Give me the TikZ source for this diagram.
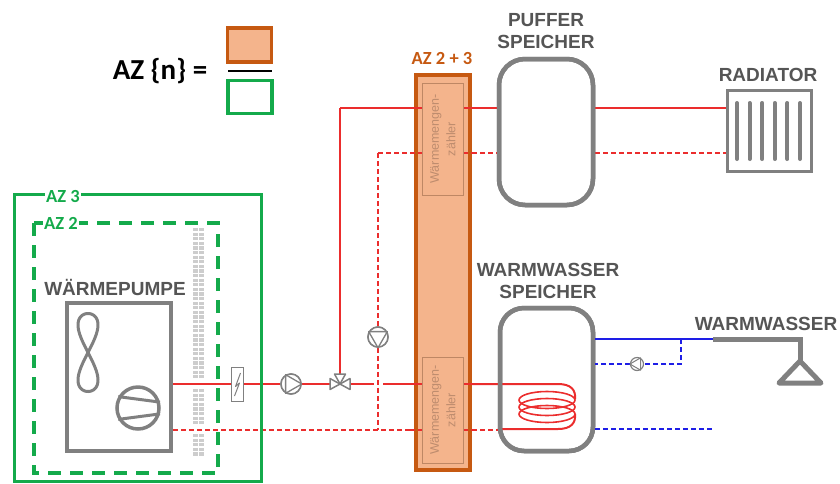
\documentclass[tikz,border=0pt]{standalone}
\usepackage{fontspec}
\setmainfont{Liberation Sans}
\newfontfamily\calfont{Carlito}
\usetikzlibrary{calc}
\definecolor{pipered}{RGB}{235,45,45}
\definecolor{azorange}{RGB}{198,89,17}
\definecolor{lightor}{RGB}{244,180,140}
\definecolor{azgreen}{RGB}{20,170,75}
\definecolor{shapegray}{RGB}{128,128,128}
\definecolor{txtgray}{RGB}{85,85,85}
\definecolor{wwblue}{RGB}{30,30,230}
\definecolor{wmzline}{RGB}{190,135,100}
\definecolor{wmztext}{RGB}{190,140,110}
\definecolor{brick}{RGB}{205,205,205}
\begin{document}
\begin{tikzpicture}[x=1pt,y=-1pt,
  tank/.style={draw=shapegray, line width=4.5, rounded corners=26, inner sep=0},
  lbl/.style={font=\bfseries\fontsize{19}{21.5}\selectfont, text=txtgray, inner sep=0, align=center},
  azlbl/.style={font=\calfont\bfseries\fontsize{18.5}{20}\selectfont, inner sep=1.5},
  hot/.style={draw=pipered, line width=2},
  ret/.style={hot, dash pattern=on 5 off 3},
  bl/.style={draw=wwblue, line width=2},
  blret/.style={bl, dash pattern=on 5 off 3},
  pumpc/.style={circle, draw=shapegray, line width=1.5, fill=white, minimum size=20, inner sep=0},
  sym/.style={draw=shapegray, line width=1.5, fill=white, line join=round},
  wmz/.style={draw=wmzline, line width=0.8, minimum width=41, inner sep=0},
  wmzt/.style={rotate=90, font=\fontsize{12.5}{16.5}\selectfont, text=wmztext, align=center, inner sep=0}]
\useasboundingbox (0,0) rectangle (840,483);
% ---------- legend
\node[font=\calfont\bfseries\fontsize{29}{30}\selectfont, inner sep=0] (azn) at (160,71) {AZ \{n\} =};
\node[draw=azorange, line width=3.5, fill=lightor, minimum width=44, minimum height=34, inner sep=0] (legnum) at (249.5,45) {};
\node[draw=azgreen, line width=3.5, minimum width=44, minimum height=33, inner sep=0] (legden) at (250,97) {};
\coordinate (fracl) at (228,71);
\coordinate (fracr) at (272,71);
\draw[line width=2.5] (fracl) -- (fracr);
% ---------- main nodes
\node[draw=azorange, line width=4, fill=lightor, minimum width=54, minimum height=395, inner sep=0] (col) at (443,272.5) {};
\node[tank, minimum width=94, minimum height=146] (puffer) at (546,132) {};
\node[tank, minimum width=93, minimum height=143, rounded corners=24] (ww) at (546.5,379.5) {};
\node[draw=shapegray, line width=3.5, minimum width=84, minimum height=81, inner sep=0] (rad) at (769.5,131) {};
\node[draw=shapegray, line width=4.5, minimum width=104, minimum height=148, inner sep=0] (hp) at (119,377) {};
% y levels
\coordinate (yF) at (0,108);
\coordinate (yR) at (0,153);
\coordinate (yS) at (0,384);
\coordinate (yD) at (0,430);
\coordinate (v1top) at (340,108);
\coordinate (d1top) at (378,153);
\coordinate (valve) at (340,384);
\coordinate (d1bot) at (378,430);
\coordinate (gapl) at (374,384);
\coordinate (gapr) at (383,384);
% ---------- pipes top
\draw[hot] (v1top) -- (col.west |- yF);
\draw[hot] (col.east |- yF) -- (puffer.west |- yF);
\draw[hot] (puffer.east |- yF) -- (rad.west |- yF);
\draw[ret] (d1top) -- (col.west |- yR);
\draw[ret] (col.east |- yR) -- (puffer.west |- yR);
\draw[ret] (puffer.east |- yR) -- (rad.west |- yR);
\draw[hot] (v1top) -- (valve);
% pumps etc
\node[pumpc] (p1) at (291,384) {};
\node[pumpc] (p2) at (378,337) {};
\node[draw=shapegray, line width=1.8, fill=white, minimum width=12, minimum height=34, inner sep=0] (heater) at (237.5,384.5) {};
% lower pipes
\draw[hot] (hp.east |- yS) -- (heater.west |- yS);
\draw[hot] (heater.east |- yS) -- (p1.west);
\draw[hot] (p1.east) -- (valve);
\draw[hot] (valve) -- (gapl);
\draw[hot] (gapr) -- (col.west |- yS);
\draw[ret] (d1top) -- (p2.north);
\draw[ret] (p2.south) -- (d1bot);
\draw[ret] (hp.east |- yD) -- (col.west |- yD);
% coil
\coordinate (coilA) at (558,384);
\coordinate (coilB) at (558,429);
\draw[hot] (col.east |- yS) -- (coilA) .. controls (571,384) and (576,390) .. (575,399);
\draw[ret] (col.east |- yD) -- (ww.west |- yD);
\draw[hot] (ww.west |- coilB) -- (coilB) .. controls (571,429) and (576,423) .. (575,414);
\foreach \cy in {400,407,414}
  \draw[pipered, line width=1.6] (547,\cy) ellipse [x radius=28, y radius=8.5];
% red ticks on the column border
\foreach \ty in {108,384} {
  \draw[hot] (410,\ty) -- (423,\ty);
  \draw[hot] (463,\ty) -- (476,\ty);}
\foreach \ty in {153,430} {
  \draw[ret] (410,\ty) -- (423,\ty);
  \draw[ret] (463,\ty) -- (476,\ty);}
% symbols on top
\node[pumpc] at (p1) {};
\draw[shapegray, line width=1.3, line join=round] (p1.120) -- (p1.0) -- (p1.240) -- cycle;
\node[pumpc] at (p2) {};
\draw[shapegray, line width=1.3, line join=round] (p2.150) -- (p2.-90) -- (p2.30) -- cycle;
\draw[sym] (valve) -- ++(-10,-5.5) -- ++(0,11) -- cycle;
\draw[sym] (valve) -- ++(10,-5.5) -- ++(0,11) -- cycle;
\draw[sym] (valve) -- ++(-5.5,-10) -- ++(11,0) -- cycle;
\node[draw=shapegray, line width=1.8, fill=white, minimum width=12, minimum height=34, inner sep=0] at (heater) {};
\draw[shapegray, line width=1, line join=round] (240.5,373) -- (235.5,386.5) -- (239.5,383) -- (234.5,396);
% ---------- column inner boxes
\node[wmz, minimum height=112] (wmz1) at (443,139) {};
\node[wmzt] at (wmz1) {Wärmemengen-\\zähler};
\node[wmz, minimum height=106] (wmz2) at (443,410) {};
\node[wmzt] at (wmz2) {Wärmemengen-\\zähler};
\node[azlbl, text=azorange] (az23) at (442,58) {AZ 2 + 3};
% tanks redraw on top of pipes
\node[tank, minimum width=94, minimum height=146] at (puffer) {};
\node[tank, minimum width=93, minimum height=143, rounded corners=24] at (ww) {};
% radiator bars
\foreach \bx in {737,749.6,762.2,774.8,787.4,800}
  \draw[shapegray, line width=4, line cap=round] (\bx,103) -- (\bx,159);
% ---------- hot water side
\coordinate (tap) at (713,339);
\coordinate (tapbend) at (800,339);
\coordinate (headtop) at (800,361);
\coordinate (circT) at (681,339);
\coordinate (circB) at (681,364);
\coordinate (coldend) at (713,429);
\draw[bl] (ww.east |- tap) -- (tap);
\draw[shapegray, line width=5, line join=miter] (tap) -- (tapbend) -- (headtop);
\draw[shapegray, line width=5, line join=round] (headtop) -- (779,383) -- (821,383) -- cycle;
\node[pumpc, minimum size=13, line width=1.2] (p3) at (637,364) {};
\draw[blret] (circT) -- (circB) -- (p3.east);
\draw[blret] (p3.west) -- (ww.east |- circB);
\draw[shapegray, line width=1, line join=round] (p3.60) -- (p3.180) -- (p3.300) -- cycle;
\draw[blret] (ww.east |- coldend) -- (coldend);
% ---------- heat pump details
\draw[shapegray, line width=3] plot[domain=0:360, samples=90, smooth cycle] ({88+20*sin(\x)*cos(\x)},{352.5+39*sin(\x)});
\node[circle, draw=shapegray, line width=3.5, minimum size=42, inner sep=0] (comp) at (138,408) {};
\draw[shapegray, line width=3] (comp.150) -- (comp.15);
\draw[shapegray, line width=3] (comp.210) -- (comp.-15);
% brick wall
\foreach \yy in {228,232.6,...,376} {
  \fill[brick] (193,\yy) rectangle ++(5,3.2);
  \fill[brick] (199,\yy) rectangle ++(5,3.2);}
\foreach \yy in {389,393.6,...,423} {
  \fill[brick] (193,\yy) rectangle ++(5,3.2);
  \fill[brick] (199,\yy) rectangle ++(5,3.2);}
\foreach \yy in {434,438.6,...,455} {
  \fill[brick] (193,\yy) rectangle ++(5,3.2);
  \fill[brick] (199,\yy) rectangle ++(5,3.2);}
% ---------- system boundaries
\draw[azgreen, line width=3] (14,194) rectangle (261,481);
\draw[azgreen, line width=3.5, dash pattern=on 13 off 9] (34,223) rectangle (218,473);
\node[azlbl, text=azgreen, fill=white] (az3) at (63,196) {AZ 3};
\node[azlbl, text=azgreen, fill=white] (az2) at (61,223) {AZ 2};
% ---------- labels
\node[lbl] (lpuf) at (546,31) {PUFFER\\SPEICHER};
\node[lbl] (lrad) at (768,75) {RADIATOR};
\node[lbl] (lwws) at (548,281) {WARMWASSER\\SPEICHER};
\node[lbl] (lww) at (766,324) {WARMWASSER};
\node[lbl] (lwp) at (115,287) {WÄRMEPUMPE};
\end{tikzpicture}
\end{document}
